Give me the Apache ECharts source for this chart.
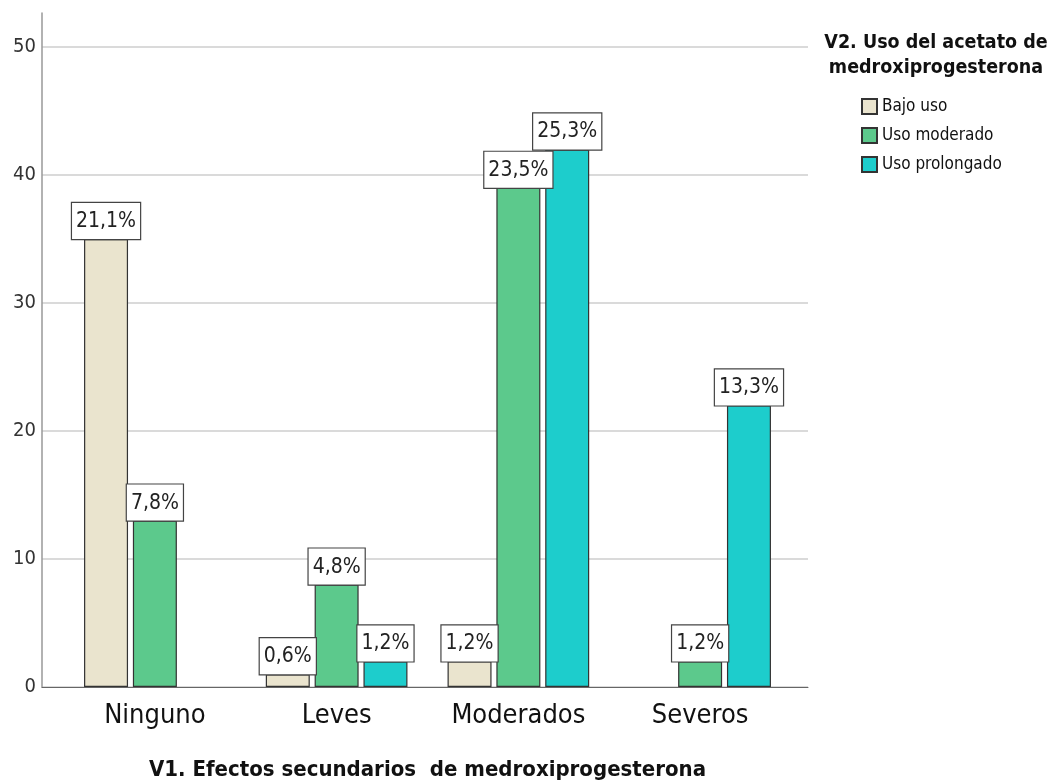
<!DOCTYPE html>
<html>
<head>
<meta charset="utf-8">
<script src="https://cdn.jsdelivr.net/npm/echarts@6/dist/echarts.min.js"></script>
<style>
  html, body { margin: 0; padding: 0; background: #fff; }
  #chart { width: 1049px; height: 782px; }
</style>
</head>
<body>
<div id="chart"></div>
<script>
// Efectos secundarios (V1) por nivel de uso del acetato de medroxiprogesterona (V2), recuentos
const categories = ['Ninguno', 'Leves', 'Moderados', 'Severos'];
const seriesNames = ['Bajo uso', 'Uso moderado', 'Uso prolongado'];
const bajoUso = [35, 1, 2, 0];
const usoModerado = [13, 8, 39, 2];
const usoProlongado = [0, 2, 42, 22];
const yTicks = [0, 10, 20, 30, 40, 50];

const xTitle = 'V1. Efectos secundarios  de medroxiprogesterona';
const legendTitle = 'V2. Uso del acetato de\nmedroxiprogesterona';

const FONT = "'Liberation Sans Narrow', 'Arial Narrow', 'DejaVu Sans Condensed', sans-serif";
const colors = ['#EAE4CE', '#5CC98C', '#1DCDCC'];

const allValues = [bajoUso, usoModerado, usoProlongado];
const total = allValues.flat().reduce((a, b) => a + b, 0);
const Y_MAX = 52.66;

function pct(v) {
  return (v / total * 100).toFixed(1).replace('.', ',') + '%';
}

const chart = echarts.init(document.getElementById('chart'), null, { renderer: 'canvas' });

const series = allValues.map((vals, i) => ({
  name: seriesNames[i],
  type: 'bar',
  xAxisIndex: 1,
  yAxisIndex: 1,
  barWidth: 44,
  barGap: '11%',
  data: vals.map(v => (v === 0 ? null : v)),
  itemStyle: { color: colors[i], borderColor: '#333', borderWidth: 1.2 },
  label: {
    show: true,
    position: 'top',
    distance: 0,
    formatter: p => pct(p.value),
    fontFamily: FONT,
    fontSize: 21,
    color: '#222',
    backgroundColor: '#fff',
    borderColor: '#444',
    borderWidth: 1.2,
    padding: [8, 4, 7, 4]
  },
  emphasis: { disabled: true },
  animation: false
}));

const option = {
  animation: false,
  backgroundColor: '#fff',
  textStyle: { fontFamily: FONT },
  grid: [
    // frame grid: axis lines and gridlines
    { left: 42, right: 241, top: 13, bottom: 95, containLabel: false, outerBoundsMode: 'none' },
    // bar grid
    { left: 64, right: 258, top: 13, bottom: 95, containLabel: false, outerBoundsMode: 'none' }
  ],
  xAxis: [
    {
      gridIndex: 0, type: 'value', min: 0, max: 1,
      axisLine: { show: true, onZero: false, lineStyle: { color: '#666', width: 1 } },
      axisTick: { show: false }, axisLabel: { show: false }, splitLine: { show: false }
    },
    {
      gridIndex: 1, type: 'category', data: categories,
      axisLine: { show: false }, axisTick: { show: false },
      axisLabel: { fontFamily: FONT, fontSize: 27, color: '#111', margin: 15 },
      name: xTitle, nameLocation: 'middle', nameGap: 72,
      nameTextStyle: { fontFamily: FONT, fontSize: 22, fontWeight: 'bold', color: '#111' }
    }
  ],
  yAxis: [
    {
      gridIndex: 0, type: 'value', min: 0, max: Y_MAX, interval: 10,
      axisLine: { show: true, lineStyle: { color: '#999', width: 1.5 } },
      axisTick: { show: false },
      axisLabel: {
        fontFamily: FONT, fontSize: 20, color: '#333', margin: 6,
        showMaxLabel: false,
        formatter: v => (yTicks.includes(v) ? String(v) : '')
      },
      splitLine: { show: true, showMaxLine: false, lineStyle: { color: '#DADADA', width: 2 } }
    },
    {
      gridIndex: 1, type: 'value', min: 0, max: Y_MAX, interval: 10,
      show: false, splitLine: { show: false }
    }
  ],
  legend: {
    orient: 'vertical',
    left: 856, top: 93,
    itemWidth: 15, itemHeight: 15, itemGap: 12,
    icon: 'rect',
    selectedMode: false,
    data: seriesNames,
    textStyle: { fontFamily: FONT, fontSize: 17, lineHeight: 15, color: '#111' }
  },
  title: {
    text: legendTitle,
    left: 931, top: 25,
    textAlign: 'center',
    textStyle: { fontFamily: FONT, fontSize: 19.5, fontWeight: 'bold', color: '#111', lineHeight: 25 }
  },
  series: series
};

chart.setOption(option);
</script>
</body>
</html>
